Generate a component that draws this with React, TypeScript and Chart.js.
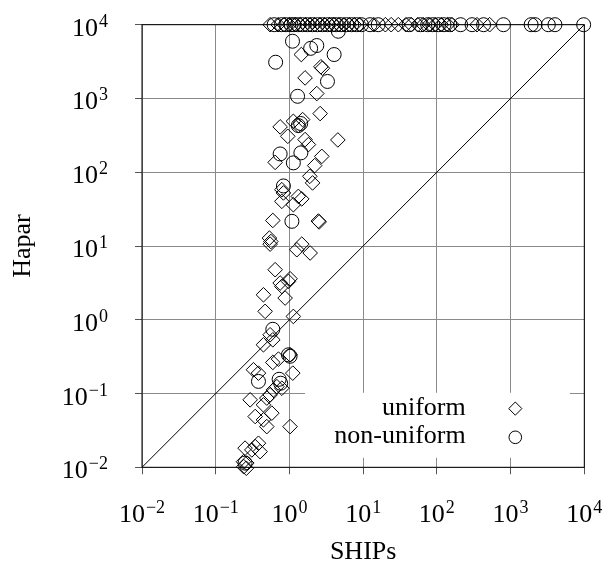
import React, { useEffect, useRef } from "react";
import { Chart, registerables } from "chart.js";

Chart.register(...registerables);

// ---------- data ----------
const TICK_VALUES = [0.01, 0.1, 1, 10, 100, 1000, 10000];
const TICK_EXPONENTS = ["\u22122", "\u22121", "0", "1", "2", "3", "4"];
const TIMEOUT = 10000;

const uniformX = [
  1.45, 2.67, 2.8, 1.63, 2.35, 2.61, 0.748, 1.13, 1.51, 1.32, 0.95, 1.63, 1.81, 4.54,
  0.64, 2.75, 2.2, 1.89, 2.06, 0.789, 0.829, 0.789, 1.32, 1.47, 1.13, 0.595, 2.47, 2.53,
  0.535, 0.56, 0.547, 1.47, 1.26, 1.91, 0.64, 1.02, 0.969, 0.748, 0.789, 0.444, 0.874,
  0.468, 1.13, 0.547, 0.595, 0.444, 0.595, 0.71, 1.02, 0.325, 0.38, 1.11, 0.675, 0.607,
  0.547, 0.493, 0.293, 0.789, 0.444, 0.577, 0.343, 0.444, 0.493, 1.02, 0.38, 0.343,
  0.309, 0.4, 0.25, 0.238, 0.264, 0.24, 0.26,
];
const uniformY = [
  3940, 2690, 2570, 1900, 1165, 624, 412, 490, 517, 429, 307, 277, 237, 274,
  136, 164, 123, 88, 71.6, 58, 52.4, 40.3, 47, 43.5, 36.3, 22.2, 21.8, 21.2,
  12.8, 11.5, 10.6, 10.6, 8.9, 8.04, 4.77, 3.6, 3.31, 3.15, 2.83, 2.18, 1.97,
  1.3, 1.11, 0.626, 0.535, 0.458, 0.264, 0.293, 0.335, 0.21, 0.189, 0.189, 0.124, 0.112,
  0.096, 0.0867, 0.0822, 0.118, 0.0703, 0.0542, 0.0488, 0.044, 0.0356, 0.0356, 0.0212, 0.0191,
  0.0172, 0.0163, 0.0182, 0.0119, 0.0114, 0.0102, 0.0097,
];
// uniform runs where Hapar hit the time limit
const uniformTimeoutX = [
  0.547, 0.7, 0.85, 1.0, 1.2, 1.4, 1.65, 1.9, 2.2, 2.6, 3.0, 3.5, 4.0, 4.7, 5.5, 6.5,
  7.6, 9.0, 14, 20, 24, 30, 38, 45, 55, 65, 78, 95, 115, 140, 160, 350, 520,
];

const nonUniformX = [
  1.1, 1.94, 2.35, 4.04, 0.65, 3.28, 1.29, 1.32, 1.42, 0.748, 1.43, 1.13, 0.829, 1.08,
  0.595, 0.969, 1.02, 0.38, 0.725, 0.76, 0.25, 4.6,
];
const nonUniformY = [
  5970, 4780, 5220, 3940, 3100, 1700, 1070, 429, 458, 177, 183, 134, 65.2, 21.6,
  0.743, 0.335, 0.32, 0.146, 0.156, 0.138, 0.0114, 8150,
];
const nonUniformTimeoutX = [
  0.62, 0.78, 0.9, 1.05, 1.15, 1.3, 1.5, 1.75, 2.05, 2.4, 2.8, 3.3, 3.8, 4.3, 5.0, 6.0,
  7.0, 8.2, 9.5, 12.4, 16, 42, 60, 75, 88, 105, 125, 150, 210, 300, 430, 800, 1900,
  2150, 3250, 4000, 9800,
];

const X_TITLE = "SHIPs";
const Y_TITLE = "Hapar";
const LEGEND_LABELS = ["uniform", "non-uniform"];

// ---------- styling ----------
const FONT = "'Liberation Serif', Tinos, 'Times New Roman', Times, serif";
const BIG = 26;
const SMALL = 18;
const TICK_LEN = 7;
const DIAMOND_R = 7.3;
const CIRCLE_R = 7;

const pts = (xs: number[], ys: number[]) => xs.map((x, i) => ({ x, y: ys[i] }));
const topRow = (xs: number[]) => xs.map((x) => ({ x, y: TIMEOUT }));

const decoPlugin = {
  id: "deco",
  beforeDatasetsDraw(chart: any) {
    const { ctx, chartArea: a } = chart;
    ctx.save();
    ctx.strokeStyle = "#000";
    ctx.lineWidth = 1;
    ctx.strokeRect(a.left, a.top, a.right - a.left, a.bottom - a.top);
    ctx.restore();
  },
  afterDatasetsDraw(chart: any) {
    const { ctx, chartArea: a } = chart;
    ctx.save();
    // legend box (white, no border)
    ctx.fillStyle = "#fff";
    ctx.fillRect(a.left + 163, a.bottom - 74.5, 265, 65);
    ctx.fillStyle = "#000";
    ctx.font = `${BIG}px ${FONT}`;
    ctx.textAlign = "right";
    ctx.textBaseline = "alphabetic";
    ctx.fillText(LEGEND_LABELS[0], a.right - 118.6, a.bottom - 52);
    ctx.fillText(LEGEND_LABELS[1], a.right - 118.6, a.bottom - 24);
    ctx.strokeStyle = "#000";
    ctx.lineWidth = 1;
    const mx = a.right - 69;
    const r = 6.6;
    let my = a.bottom - 58.7;
    ctx.beginPath();
    ctx.moveTo(mx - r, my);
    ctx.lineTo(mx, my - r);
    ctx.lineTo(mx + r, my);
    ctx.lineTo(mx, my + r);
    ctx.closePath();
    ctx.stroke();
    my = a.bottom - 30;
    ctx.beginPath();
    ctx.arc(mx, my, 6.3, 0, Math.PI * 2);
    ctx.stroke();
    ctx.restore();
  },
  afterDraw(chart: any) {
    const { ctx, chartArea: a, scales } = chart;
    const xs = scales.x;
    const ys = scales.y;
    ctx.save();
    ctx.fillStyle = "#000";
    ctx.textAlign = "left";
    ctx.textBaseline = "alphabetic";
    const drawPow = (exp: string, x: number, baseline: number, align: string) => {
      ctx.font = `${BIG}px ${FONT}`;
      const w1 = ctx.measureText("10").width;
      ctx.font = `${SMALL}px ${FONT}`;
      const w2 = ctx.measureText(exp).width;
      const total = w1 + 1 + w2;
      const left = align === "center" ? x - total / 2 : x - total;
      ctx.font = `${BIG}px ${FONT}`;
      ctx.fillText("10", left, baseline);
      ctx.font = `${SMALL}px ${FONT}`;
      ctx.fillText(exp, left + w1 + 1, baseline - 9);
    };
    TICK_VALUES.forEach((v, i) => {
      drawPow(TICK_EXPONENTS[i], xs.getPixelForValue(v), a.bottom + 54.5, "center");
      drawPow(TICK_EXPONENTS[i], a.left - 34, ys.getPixelForValue(v) + 11, "right");
    });
    ctx.font = `${BIG}px ${FONT}`;
    ctx.textAlign = "center";
    ctx.fillText(X_TITLE, (a.left + a.right) / 2, 559);
    ctx.translate(30, (a.top + a.bottom) / 2);
    ctx.rotate(-Math.PI / 2);
    ctx.fillText(Y_TITLE, 0, 0);
    ctx.restore();
  },
};

export default function App() {
  const ref = useRef<HTMLCanvasElement>(null);
  useEffect(() => {
    let chart: Chart | null = null;
    let cancelled = false;
    const axis = (pos: string) => ({
      type: "logarithmic" as const,
      position: pos,
      min: 0.01,
      max: 10000,
      afterBuildTicks: (scale: any) => {
        scale.ticks = TICK_VALUES.map((v) => ({ value: v, major: true }));
      },
      ticks: { display: false },
      title: { display: false },
      border: { display: false },
      grid: {
        color: "#8a8a8a",
        lineWidth: 1,
        drawTicks: true,
        tickLength: TICK_LEN,
        tickColor: "#555",
      },
    });
    const make = () => {
      if (cancelled || !ref.current) return;
      chart = new Chart(ref.current, {
        type: "scatter",
        data: {
          datasets: [
            {
              data: [
                { x: 0.01, y: 0.01 },
                { x: 10000, y: 10000 },
              ],
              showLine: true,
              borderColor: "#000",
              borderWidth: 1,
              pointRadius: 0,
            },
            {
              label: LEGEND_LABELS[0],
              data: [...pts(uniformX, uniformY), ...topRow(uniformTimeoutX)],
              pointStyle: "rectRot",
              pointRadius: DIAMOND_R,
              borderColor: "#000",
              backgroundColor: "rgba(0,0,0,0)",
              borderWidth: 1,
              clip: false,
            },
            {
              label: LEGEND_LABELS[1],
              data: [...pts(nonUniformX, nonUniformY), ...topRow(nonUniformTimeoutX)],
              pointStyle: "circle",
              pointRadius: CIRCLE_R,
              borderColor: "#000",
              backgroundColor: "rgba(0,0,0,0)",
              borderWidth: 1,
              clip: false,
            },
          ] as any,
        },
        options: {
          responsive: false,
          animation: false,
          devicePixelRatio: 1,
          events: [],
          layout: {
            padding: {
              left: 142 - TICK_LEN,
              right: 604 - 584.3,
              top: 24.7,
              bottom: 565 - 467.3 - TICK_LEN,
            },
          },
          plugins: { legend: { display: false }, tooltip: { enabled: false } },
          scales: { x: axis("bottom"), y: axis("left") } as any,
        },
        plugins: [decoPlugin],
      });
    };
    const fonts: any = (document as any).fonts;
    if (fonts && fonts.load) {
      Promise.all([
        fonts.load(`${BIG}px 'Liberation Serif'`, "10SHIPs"),
        fonts.load(`${SMALL}px 'Liberation Serif'`, "\u221201234"),
      ])
        .catch(() => null)
        .then(make);
    } else {
      make();
    }
    return () => {
      cancelled = true;
      if (chart) chart.destroy();
    };
  }, []);
  return (
    <div style={{ position: "fixed", left: 0, top: 0, width: 604, height: 565 }}>
      <canvas ref={ref} width={604} height={565} style={{ display: "block", width: 604, height: 565 }} />
    </div>
  );
}
